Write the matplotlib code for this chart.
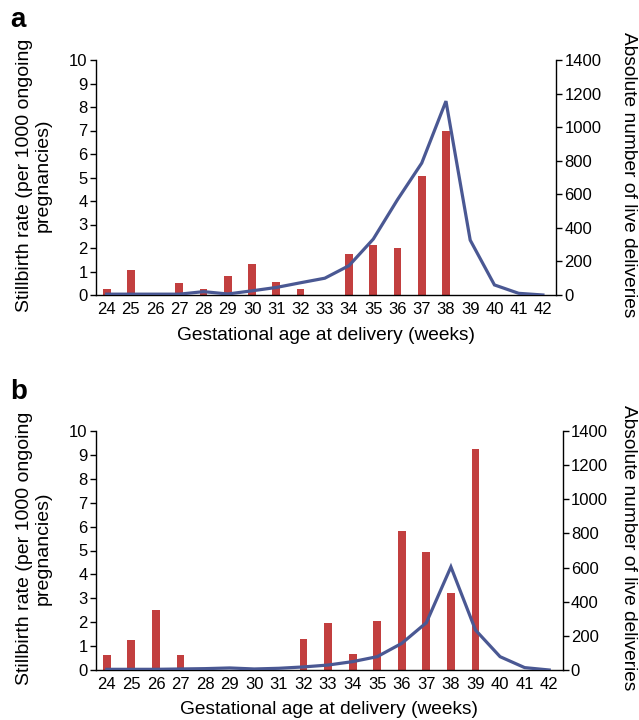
import matplotlib
matplotlib.use("Agg")
import matplotlib.pyplot as plt
import numpy as np

plt.rcParams['font.family'] = ['Liberation Sans', 'DejaVu Sans']

weeks = list(range(24, 43))
week_labels = [str(w) for w in weeks]

# Panel a
stillbirth_a = [0.25, 1.06, 0.0, 0.52, 0.25, 0.79, 1.33, 0.54, 0.25, 0.0,
                1.73, 2.11, 2.02, 5.05, 7.0, 0.0, 0.0, 0.0, 0.0]
deliveries_a = [5, 5, 5, 5, 20, 6, 25, 45, 73, 100,
                175, 333, 568, 786, 1155, 327, 60, 10, 0]

# Panel b
stillbirth_b = [0.61, 1.25, 2.49, 0.61, 0.0, 0.0, 0.0, 0.0, 1.30, 1.95,
                0.65, 2.06, 5.81, 4.93, 3.22, 9.26, 0.0, 0.0, 0.0]
deliveries_b = [4, 4, 4, 6, 8, 12, 6, 10, 18, 29,
                49, 78, 156, 277, 604, 234, 78, 14, 0]

BAR = "#C23F3F"
LINE = "#4A5893"
W, H = 639, 720

fig = plt.figure(figsize=(W / 100, H / 100), dpi=100)


def panel(box, rates, deliv, letter, letter_y, ylab_y, xlab_y):
    l, t, r, b = box
    ax = fig.add_axes([l / W, 1 - b / H, (r - l) / W, (b - t) / H])
    x = np.arange(len(weeks))
    ax.bar(x, rates, width=0.32, color=BAR, zorder=2)
    ax.set_ylim(0, 10)
    ax.set_yticks(range(0, 11))
    ax.set_xlim(-0.44, len(weeks) - 1 + 0.54)
    ax.set_xticks(x)
    ax.set_xticklabels(week_labels)
    ax.tick_params(axis='x', length=0, labelsize=12, pad=5)
    ax.tick_params(axis='y', length=4, width=1, labelsize=12, pad=2)
    for s in ['top', 'right']:
        ax.spines[s].set_visible(False)
    for s in ['left', 'bottom']:
        ax.spines[s].set_linewidth(1.0)
    ax2 = ax.twinx()
    ax2.plot(x, deliv, color=LINE, lw=2.3, zorder=3, solid_joinstyle='miter')
    ax2.set_ylim(0, 1400)
    ax2.set_yticks(range(0, 1401, 200))
    ax2.tick_params(axis='y', length=4, width=1, labelsize=12, pad=2)
    for s in ['top', 'left', 'bottom']:
        ax2.spines[s].set_visible(False)
    ax2.spines['right'].set_linewidth(1.0)
    fig.text(34 / W, 1 - ylab_y / H, "Stillbirth rate (per 1000 ongoing\npregnancies)",
             rotation=90, ha='center', va='center', multialignment='center', fontsize=14,
             linespacing=1.15)
    fig.text(628 / W, 1 - ylab_y / H, "Absolute number of live deliveries",
             rotation=270, ha='center', va='center', fontsize=13.8)
    fig.text((l + r) / 2 / W, 1 - xlab_y / H, "Gestational age at delivery (weeks)",
             ha='center', va='center', fontsize=13.8)
    fig.text(10 / W, 1 - letter_y / H, letter, fontsize=20, fontweight='bold',
             ha='left', va='center')


panel((96, 60, 556, 295), stillbirth_a, deliveries_a, 'a', 20, 175, 336)
panel((96, 431, 562.5, 670), stillbirth_b, deliveries_b, 'b', 392, 548, 710)

fig.savefig("out.png", dpi=100)
